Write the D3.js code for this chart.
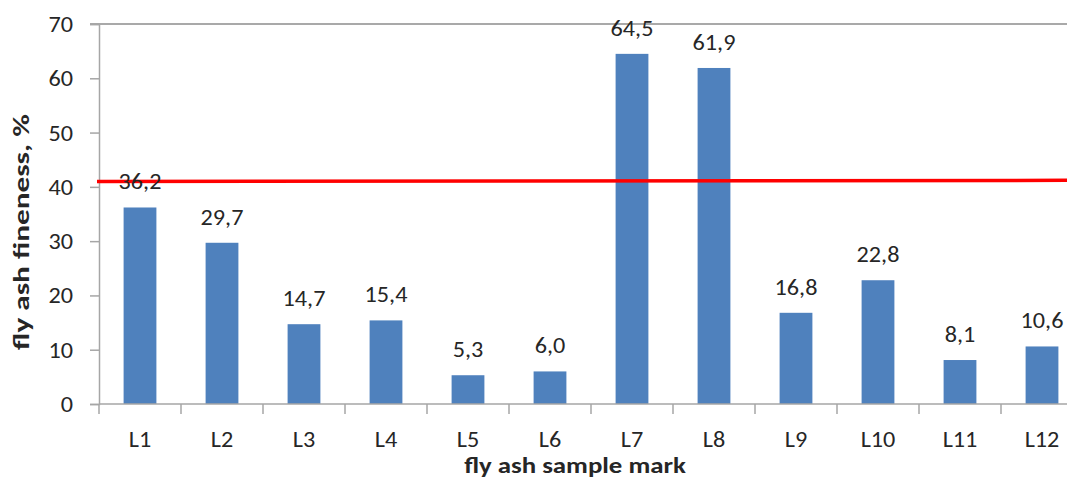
<!DOCTYPE html>
<html>
<head>
<meta charset="utf-8">
<script src="https://cdn.jsdelivr.net/npm/d3@7"></script>
<style>
  html, body { margin: 0; padding: 0; background: #fff; }
  svg { display: block; }
  text { font-family: "Carlito", "Lato", "Open Sans", sans-serif; fill: #262626; }
</style>
</head>
<body>
<svg id="chart" width="1067" height="480"></svg>
<script>
// Fly ash fineness per sample
const categories = ["L1", "L2", "L3", "L4", "L5", "L6", "L7", "L8", "L9", "L10", "L11", "L12"];
const fineness = [36.2, 29.7, 14.7, 15.4, 5.3, 6.0, 64.5, 61.9, 16.8, 22.8, 8.1, 10.6];
const yTicks = [0, 10, 20, 30, 40, 50, 60, 70];
// Limit line (start and end level)
const limitLine = [41.0, 41.2];

const svg = d3.select("#chart");
const W = 1067;
const FS = 22;       // label font size
const SX = 1.1;      // horizontal stretch of label glyphs
const SXB = 1.22;    // horizontal stretch of bold titles

const x = d3.scaleBand()
  .domain(categories)
  .range([99, 99 + 82 * categories.length])
  .paddingInner(0.6)
  .paddingOuter(0.3);

const y = d3.scaleLinear().domain([0, 70]).range([404, 24]);

const axisColor = "#a6a6a6";

// stretched text helper
function label(g, px, py, str, opts = {}) {
  const rot = opts.rotate ? ` rotate(${opts.rotate})` : "";
  return g.append("text")
    .attr("transform", `translate(${px},${py})${rot} scale(${opts.sx || SX},1)`)
    .attr("text-anchor", opts.anchor || "middle")
    .attr("font-size", opts.size || FS)
    .attr("font-weight", opts.weight || "normal")
    .attr("fill", opts.fill || "#262626")
    .text(str);
}

// top border of the plot area
svg.append("line")
  .attr("x1", 90).attr("x2", W)
  .attr("y1", y(70)).attr("y2", y(70))
  .attr("stroke", "#8c8c8c").attr("stroke-width", 1.5);

// y axis
const yAxis = svg.append("g").attr("transform", "translate(99,0)")
  .call(d3.axisLeft(y).tickValues(yTicks).tickSize(9).tickFormat(""));
yAxis.select(".domain").attr("stroke", axisColor).attr("stroke-width", 1.5);
yAxis.selectAll(".tick line").attr("stroke", axisColor).attr("stroke-width", 1.5);
const yLab = svg.append("g");
yTicks.forEach(t => label(yLab, 73, y(t) + 8, String(t), { anchor: "end" }));

// bars
svg.append("g").selectAll("rect")
  .data(fineness)
  .join("rect")
  .attr("x", (d, i) => x(categories[i]))
  .attr("width", x.bandwidth())
  .attr("y", d => y(d))
  .attr("height", d => y(0) - y(d))
  .attr("fill", "#4f81bd");

// x axis with ticks between categories
const xg = svg.append("g");
xg.append("line")
  .attr("x1", 99).attr("x2", W)
  .attr("y1", y(0)).attr("y2", y(0))
  .attr("stroke", axisColor).attr("stroke-width", 1.5);
const step = x.step();
xg.selectAll("line.tick")
  .data(d3.range(categories.length + 1))
  .join("line")
  .attr("class", "tick")
  .attr("x1", i => 99 + i * step).attr("x2", i => 99 + i * step)
  .attr("y1", y(0)).attr("y2", y(0) + 10)
  .attr("stroke", axisColor).attr("stroke-width", 1.5);
categories.forEach(c => label(xg, x(c) + x.bandwidth() / 2, 447, c));

// limit line
const lx = d3.scaleLinear().domain([0, 1]).range([97, W]);
svg.append("line")
  .attr("x1", lx(0)).attr("x2", lx(1))
  .attr("y1", y(limitLine[0])).attr("y2", y(limitLine[1]))
  .attr("stroke", "#ff0000").attr("stroke-width", 3.5);

// value labels (comma decimal)
const fmt = d => d.toFixed(1).replace(".", ",");
const vl = svg.append("g");
fineness.forEach((d, i) =>
  label(vl, x(categories[i]) + x.bandwidth() / 2, y(d) - 18, fmt(d)));

// axis titles
label(svg, 575, 473, "fly ash sample mark",
  { weight: "bold", fill: "#000", sx: SXB });
label(svg, 29, 232, "fly ash fineness, %",
  { weight: "bold", fill: "#000", sx: 1.42, rotate: -90 });
</script>
</body>
</html>
